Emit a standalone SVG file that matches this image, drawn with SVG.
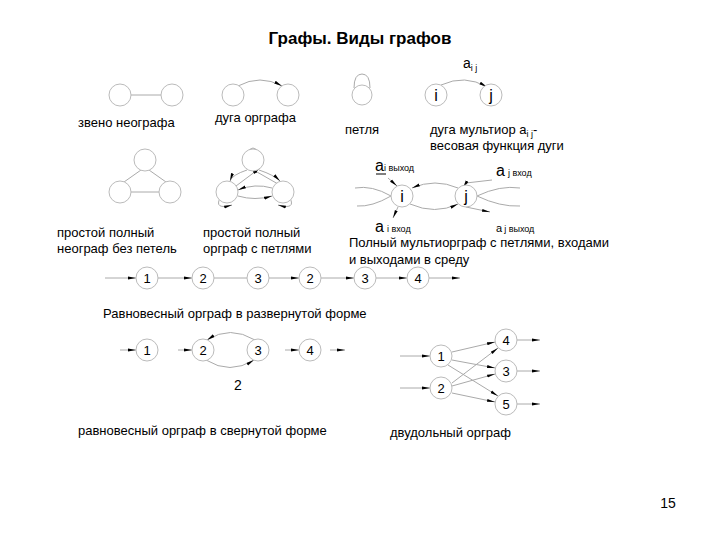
<svg xmlns="http://www.w3.org/2000/svg" width="720" height="540" viewBox="0 0 720 540">
<style>
text{font-family:"Liberation Sans",Arial,sans-serif;fill:#000}
.t{font-size:13px}
.n{fill:#fff;stroke:#bbb;stroke-width:1}
.e{fill:none;stroke:#aaa;stroke-width:1}
.a{fill:none;stroke:#aaa;stroke-width:1;marker-end:url(#ar)}
.s{font-family:"Liberation Serif",serif;font-size:13px}
</style>
<defs><marker id="ar" markerWidth="8" markerHeight="6" refX="8" refY="3" orient="auto" markerUnits="userSpaceOnUse"><path d="M0,1.5L8,3L0,4.5z" fill="#000"/></marker></defs>
<rect width="720" height="540" fill="#fff"/>
<text x="360" y="44" font-size="17" font-weight="bold" text-anchor="middle">Графы. Виды графов</text>
<g id="connectors">
<line class="e" x1="131" y1="95" x2="161" y2="95"/>
<path class="a" d="M238,86 Q260,74 282,86"/>
<path class="e" d="M354,88 Q354,74 362,74 Q370,74 370,88"/>
<path class="a" d="M441,85 Q465,74 487,87"/>
<line class="e" x1="141" y1="170" x2="124" y2="182"/>
<line class="e" x1="149" y1="170" x2="166" y2="182"/>
<line class="e" x1="131" y1="192" x2="159" y2="192"/>
<path class="a" d="M246,154 Q253,142 260,154 L262,160"/>
<path class="a" d="M247,170 Q232,175 230,181"/>
<path class="a" d="M259,170 Q274,175 280,181"/>
<path class="a" d="M236,186 L260,168"/>
<path class="a" d="M278,184 L250,168"/>
<path class="a" d="M272,188 Q255,183 238,190"/>
<path class="a" d="M238,196 Q255,201 272,196"/>
<path class="a" d="M220,198 Q214,210 232,205"/>
<path class="a" d="M290,198 Q296,210 278,205"/>
<path class="e" d="M391,196 Q372,185 355,188"/>
<path class="e" d="M391,196 Q372,207 357,206"/>
<path class="a" d="M410,204 Q435,215 458,204"/>
<path class="a" d="M458,188 Q435,178 412,188"/>
<path class="e" d="M477,196 Q500,185 520,188"/>
<path class="e" d="M477,196 Q500,207 520,206"/>
<line class="a" x1="388" y1="178" x2="397" y2="186"/>
<line class="a" x1="398" y1="207" x2="393" y2="218"/>
<path class="a" d="M492,180 L466,183 L463,188" />
<line class="a" x1="466" y1="207" x2="490" y2="212"/>
<line class="a" x1="105" y1="278" x2="136" y2="278"/>
<line class="a" x1="158" y1="278" x2="192" y2="278"/>
<line class="e" x1="214" y1="278" x2="247" y2="278"/>
<line class="a" x1="269" y1="278" x2="299" y2="278"/>
<line class="a" x1="321" y1="278" x2="354" y2="278"/>
<line class="a" x1="376" y1="278" x2="407" y2="278"/>
<line class="a" x1="429" y1="278" x2="460" y2="278"/>
<line class="a" x1="120" y1="350" x2="136" y2="350"/>
<line class="a" x1="178" y1="350" x2="192" y2="350"/>
<path class="a" d="M255,340 Q230,325 207,340"/>
<path class="a" d="M206,360 Q230,375 254,360"/>
<line class="a" x1="285" y1="350" x2="299" y2="350"/>
<line class="a" x1="330" y1="350" x2="345" y2="350"/>
<line class="a" x1="400" y1="356" x2="430" y2="356"/>
<line class="a" x1="400" y1="388" x2="430" y2="388"/>
<line class="a" x1="452" y1="352" x2="495" y2="342"/>
<line class="a" x1="452" y1="360" x2="495" y2="368"/>
<line class="a" x1="452" y1="383" x2="498" y2="348"/>
<line class="a" x1="452" y1="386" x2="495" y2="374"/>
<line class="a" x1="452" y1="393" x2="495" y2="402"/>
<line class="a" x1="448" y1="365" x2="498" y2="396"/>
<line class="a" x1="517" y1="340" x2="540" y2="340"/>
<line class="a" x1="517" y1="371" x2="540" y2="371"/>
<line class="a" x1="517" y1="404" x2="540" y2="404"/>
</g>
<g id="nodes">
<circle class="n" cx="120" cy="95" r="11"/><circle class="n" cx="172" cy="95" r="11"/>
<circle class="n" cx="233" cy="95" r="11"/><circle class="n" cx="288" cy="95" r="11"/>
<circle class="n" cx="362" cy="95" r="10"/>
<circle class="n" cx="436" cy="95" r="11"/><circle class="n" cx="491" cy="95" r="11"/>
<text x="436" y="101" font-size="16" text-anchor="middle">i</text><text x="491" y="101" font-size="16" text-anchor="middle">j</text>
<circle class="n" cx="145" cy="160" r="11"/><circle class="n" cx="120" cy="192" r="11"/><circle class="n" cx="170" cy="192" r="11"/>
<circle class="n" cx="253" cy="160" r="11"/><circle class="n" cx="227" cy="192" r="11"/><circle class="n" cx="283" cy="192" r="11"/>
<circle class="n" cx="402" cy="196" r="11"/><circle class="n" cx="466" cy="196" r="11"/>
<text x="402" y="202" font-size="16" text-anchor="middle">i</text><text x="466" y="202" font-size="16" text-anchor="middle">j</text>
<g class="s" text-anchor="middle">
<circle class="n" cx="147" cy="278" r="11"/><text x="147" y="283">1</text>
<circle class="n" cx="203" cy="278" r="11"/><text x="203" y="283">2</text>
<circle class="n" cx="258" cy="278" r="11"/><text x="258" y="283">3</text>
<circle class="n" cx="310" cy="278" r="11"/><text x="310" y="283">2</text>
<circle class="n" cx="365" cy="278" r="11"/><text x="365" y="283">3</text>
<circle class="n" cx="418" cy="278" r="11"/><text x="418" y="283">4</text>
<circle class="n" cx="147" cy="350" r="11"/><text x="147" y="355">1</text>
<circle class="n" cx="203" cy="350" r="11"/><text x="203" y="355">2</text>
<circle class="n" cx="258" cy="350" r="11"/><text x="258" y="355">3</text>
<circle class="n" cx="310" cy="350" r="11"/><text x="310" y="355">4</text>
<circle class="n" cx="441" cy="356" r="11"/><text x="441" y="361">1</text>
<circle class="n" cx="441" cy="388" r="11"/><text x="441" y="393">2</text>
<circle class="n" cx="506" cy="340" r="11"/><text x="506" y="345">4</text>
<circle class="n" cx="506" cy="371" r="11"/><text x="506" y="376">3</text>
<circle class="n" cx="506" cy="404" r="11"/><text x="506" y="409">5</text>
</g>
</g>
<g id="labels" class="t">
<text x="78" y="127">звено  неографа</text>
<text x="215" y="122">дуга орграфа</text>
<text x="345" y="134">петля</text>
<text x="463" y="68" font-size="14">a<tspan font-size="9" dy="3">i  j</tspan></text>
<text x="430" y="134">дуга мультиор a<tspan font-size="9" dy="3">i  j</tspan><tspan dy="-3">-</tspan></text>
<text x="430" y="150">весовая функция дуги</text>
<text x="57" y="237">простой полный</text>
<text x="57" y="253">неограф без петель</text>
<text x="203" y="237">простой полный</text>
<text x="203" y="253">орграф с петлями</text>
<text x="375" y="171" font-size="16">a<tspan font-size="9" dy="0">i выход</tspan></text>
<line x1="376" y1="174" x2="386" y2="174" stroke="#000"/>
<text x="496" y="176" font-size="16">a<tspan font-size="9" dx="3">j вход</tspan></text>
<text x="375" y="232" font-size="16">a<tspan font-size="9" dx="3">i  вход</tspan></text>
<text x="496" y="232" font-size="11">a<tspan font-size="9" dx="2">j выход</tspan></text>
<text x="349" y="247">Полный мультиорграф с петлями, входами</text>
<text x="349" y="264">и выходами в среду</text>
<text x="103" y="318">Равновесный орграф в развернутой форме</text>
<text x="238" y="390" font-size="14" text-anchor="middle">2</text>
<text x="78" y="435">равновесный орграф в свернутой форме</text>
<text x="390" y="437">двудольный орграф</text>
<text x="668" y="508" font-size="14" text-anchor="middle">15</text>
</g>
</svg>
